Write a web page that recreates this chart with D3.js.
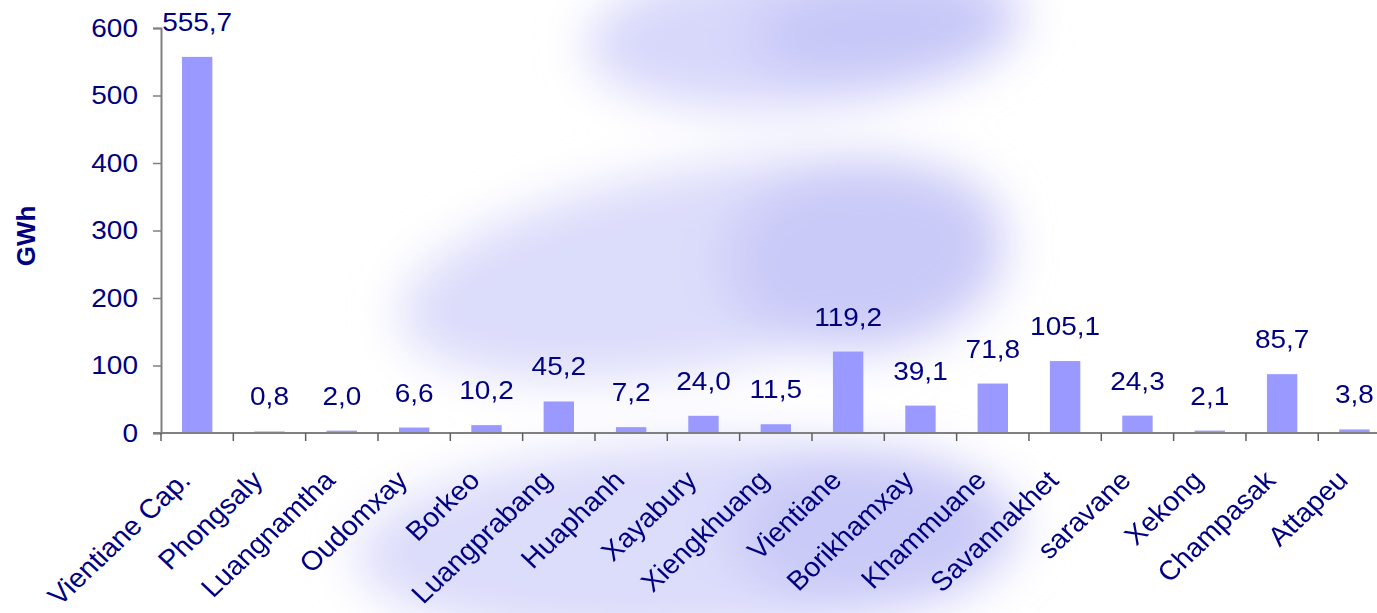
<!DOCTYPE html>
<html>
<head>
<meta charset="utf-8">
<script src="https://cdn.jsdelivr.net/npm/d3@7"></script>
<style>
  html, body { margin: 0; padding: 0; background: #ffffff; }
  svg { display: block; }
  text { font-family: "Liberation Sans", Arial, sans-serif; fill: #000080; }
</style>
</head>
<body>
<svg id="chart" width="1377" height="613"></svg>
<script>
// ---- data ----
const categories = ["Vientiane Cap.", "Phongsaly", "Luangnamtha", "Oudomxay", "Borkeo",
  "Luangprabang", "Huaphanh", "Xayabury", "Xiengkhuang", "Vientiane", "Borikhamxay",
  "Khammuane", "Savannakhet", "saravane", "Xekong", "Champasak", "Attapeu"];
const values = [555.7, 0.8, 2.0, 6.6, 10.2, 45.2, 7.2, 24.0, 11.5, 119.2, 39.1,
  71.8, 105.1, 24.3, 2.1, 85.7, 3.8];
const yTicks = [0, 100, 200, 300, 400, 500, 600];
const yTitle = "GWh";

// ---- layout ----
const W = 1377, H = 613;
const plotLeft = 161, plotBottom = 433, plotTop = 28;
const step = 72.33;
const sx = 1.12;   // horizontal stretch of the original number rendering
const sxCat = 1.06; // stretch of the category labels

const svg = d3.select("#chart");

// ---- background decoration (blurred lavender clouds) ----
const defs = svg.append("defs");
const f = defs.append("filter").attr("id", "blur").attr("x", "-50%").attr("y", "-50%")
  .attr("width", "200%").attr("height", "200%");
f.append("feGaussianBlur").attr("stdDeviation", 24);
const deco = svg.append("g").attr("filter", "url(#blur)");
const blobs = [
  {cx: 805, cy: 30, rx: 220, ry: 78, rot: -5, c: "#d8d8fb"},
  {cx: 880, cy: 30, rx: 130, ry: 50, rot: -4, c: "#c8c8f8"},
  {cx: 700, cy: 268, rx: 305, ry: 100, rot: -10, c: "#dcdcfb"},
  {cx: 865, cy: 255, rx: 140, ry: 95, rot: -6, c: "#cacaf8"},
  {cx: 690, cy: 540, rx: 335, ry: 98, rot: -3, c: "#dcdcfb"},
  {cx: 870, cy: 530, rx: 140, ry: 80, rot: 0, c: "#cacaf8"}
];
deco.selectAll("ellipse").data(blobs).join("ellipse")
  .attr("cx", d => d.cx).attr("cy", d => d.cy)
  .attr("rx", d => d.rx).attr("ry", d => d.ry)
  .attr("transform", d => `rotate(${d.rot},${d.cx},${d.cy})`)
  .attr("fill", d => d.c);

// ---- scales ----
const x = d3.scaleBand().domain(categories).range([plotLeft, plotLeft + step * categories.length]).padding(0);
const y = d3.scaleLinear().domain([0, 600]).range([plotBottom, plotTop]);
const barW = x.bandwidth() * 0.42;
const fmt = v => d3.format(".1f")(v).replace(".", ",");

// ---- bars ----
svg.append("g").selectAll("rect").data(values).join("rect")
  .attr("x", (d, i) => x(categories[i]) + x.bandwidth() / 2 - barW / 2)
  .attr("y", d => y(d) - 1)
  .attr("width", barW)
  .attr("height", d => plotBottom - y(d) + 1)
  .attr("fill", "#9999ff");

// ---- y axis ----
const yAxis = svg.append("g").attr("transform", `translate(${plotLeft},0)`)
  .call(d3.axisLeft(y).tickValues(yTicks).tickSize(8).tickFormat(""));
yAxis.select(".domain").attr("stroke", "#808080").attr("stroke-width", 2);
yAxis.selectAll(".tick line").attr("stroke", "#808080").attr("stroke-width", 1.5);

svg.append("g").selectAll("text").data(yTicks).join("text")
  .attr("transform", d => `translate(138,${y(d)}) scale(${sx},1)`)
  .attr("text-anchor", "end")
  .attr("dy", "0.34em")
  .style("font-size", "25px")
  .text(d => d);

// ---- x axis ----
const xLine = svg.append("g").attr("transform", `translate(0,${plotBottom})`);
xLine.append("line").attr("x1", plotLeft - 8).attr("x2", W)
  .attr("stroke", "#808080").attr("stroke-width", 2);
xLine.selectAll("line.tk").data(categories).join("line").attr("class", "tk")
  .attr("x1", d => x(d)).attr("x2", d => x(d))
  .attr("y1", 0).attr("y2", 8)
  .attr("stroke", "#606060").attr("stroke-width", 1.5);

svg.append("g").selectAll("text").data(categories).join("text")
  .attr("transform", d => `translate(${x(d) + x.bandwidth() / 2 - 5},482) scale(${sxCat},1) rotate(-45)`)
  .attr("text-anchor", "end")
  .style("font-size", "27px")
  .text(d => d);

// ---- value labels ----
svg.append("g").selectAll("text").data(values).join("text")
  .attr("transform", (d, i) => `translate(${x(categories[i]) + x.bandwidth() / 2},${y(d) - 27}) scale(${sx},1)`)
  .attr("text-anchor", "middle")
  .style("font-size", "25px")
  .text(d => fmt(d));

// ---- y title ----
svg.append("text")
  .attr("transform", "translate(35,236) rotate(-90)")
  .attr("text-anchor", "middle")
  .style("font-size", "26px")
  .style("font-weight", "bold")
  .text(yTitle);
</script>
</body>
</html>
